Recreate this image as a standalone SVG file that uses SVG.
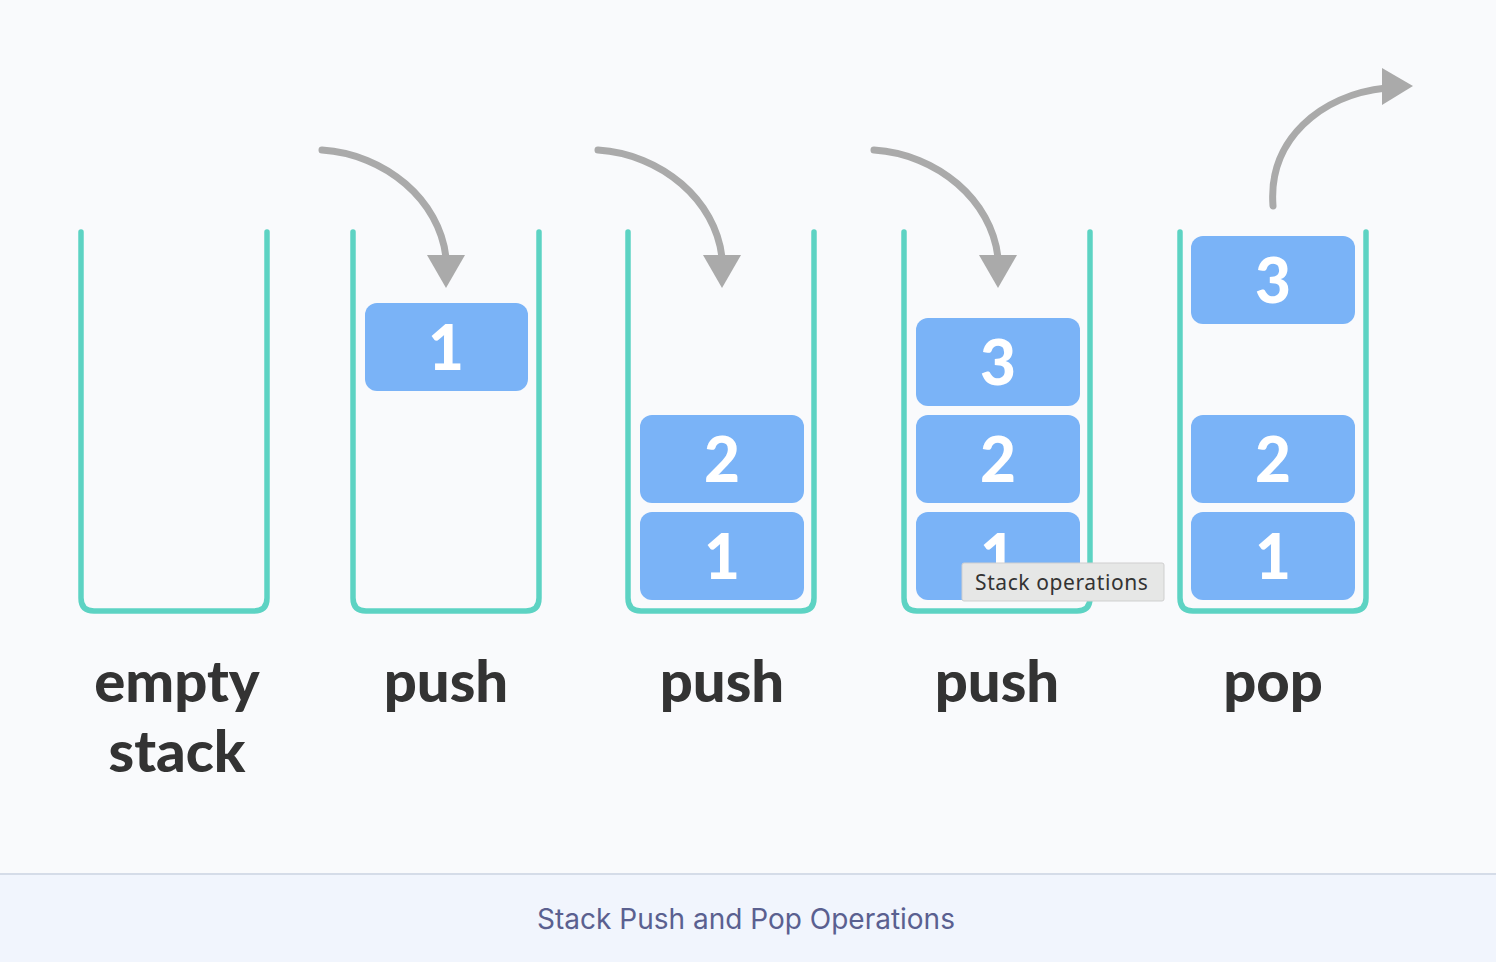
<svg xmlns="http://www.w3.org/2000/svg" width="1496" height="962" viewBox="0 0 1496 962">
<style>
.box{fill:none;stroke:#5DD3C3;stroke-width:5.5;stroke-linecap:round;stroke-linejoin:round}
.blk{fill:#7AB3F7}
.num{fill:#fff;font-family:Lato,"Noto Sans",sans-serif;font-weight:900;font-size:62px;text-anchor:middle}
.lbl{fill:#333;font-family:Lato,"Noto Sans",sans-serif;font-weight:900;font-size:58px;text-anchor:middle}
.arr{fill:none;stroke:#AAAAAA;stroke-width:7;stroke-linecap:round}
.head{fill:#AAAAAA}
</style>
<rect x="0" y="0" width="1496" height="962" fill="#F9FAFC"/>
<rect x="0" y="874" width="1496" height="88" fill="#F1F5FD"/>
<line x1="0" y1="874" x2="1496" y2="874" stroke="#D5DCE8" stroke-width="2"/>
<text x="746" y="929" text-anchor="middle" font-family="Inter,'Noto Sans',sans-serif" font-size="28" fill="#5A6090">Stack Push and Pop Operations</text>

<g id="stack-empty">
<path class="box" d="M81,232 V598 Q81,611 94,611 H254 Q267,611 267,598 V232"/>
<text class="lbl" x="177" y="702">empty</text>
<text class="lbl" x="177" y="772">stack</text>
</g>
<g id="stack-push1">
<path class="box" d="M353,232 V598 Q353,611 366,611 H526 Q539,611 539,598 V232"/>
<rect class="blk" x="365" y="303" width="163" height="88" rx="12"/>
<text class="num" x="446" y="370">1</text>
<text class="lbl" x="446" y="702">push</text>
</g>
<g id="stack-push2">
<path class="box" d="M628,232 V598 Q628,611 641,611 H801 Q814,611 814,598 V232"/>
<rect class="blk" x="640" y="415" width="164" height="88" rx="12"/>
<text class="num" x="722" y="482">2</text>
<rect class="blk" x="640" y="512" width="164" height="88" rx="12"/>
<text class="num" x="722" y="579">1</text>
<text class="lbl" x="722" y="702">push</text>
</g>
<g id="stack-push3">
<path class="box" d="M904,232 V598 Q904,611 917,611 H1077 Q1090,611 1090,598 V232"/>
<rect class="blk" x="916" y="318" width="164" height="88" rx="12"/>
<text class="num" x="998" y="385">3</text>
<rect class="blk" x="916" y="415" width="164" height="88" rx="12"/>
<text class="num" x="998" y="482">2</text>
<rect class="blk" x="916" y="512" width="164" height="88" rx="12"/>
<text class="num" x="998" y="579">1</text>
<text class="lbl" x="997" y="702">push</text>
</g>
<g id="stack-pop">
<path class="box" d="M1180,232 V598 Q1180,611 1193,611 H1353 Q1366,611 1366,598 V232"/>
<rect class="blk" x="1191" y="236" width="164" height="88" rx="12"/>
<text class="num" x="1273" y="303">3</text>
<rect class="blk" x="1191" y="415" width="164" height="88" rx="12"/>
<text class="num" x="1273" y="482">2</text>
<rect class="blk" x="1191" y="512" width="164" height="88" rx="12"/>
<text class="num" x="1273" y="579">1</text>
<text class="lbl" x="1273" y="702">pop</text>
</g>

<g id="connectors">
<path class="arr" d="M322,150 C385,154 440,200 446,258"/>
<polygon class="head" points="427,255 465,255 446,288"/>
<path class="arr" d="M598,150 C661,154 716,200 722,258"/>
<polygon class="head" points="703,255 741,255 722,288"/>
<path class="arr" d="M874,150 C937,154 992,200 998,258"/>
<polygon class="head" points="979,255 1017,255 998,288"/>
<path class="arr" d="M1273,206 C1268,140 1320,95 1386,88"/>
<polygon class="head" points="1382,68 1413,86 1382,105"/>
</g>

<g id="tooltip">
<rect x="962" y="563" width="202" height="38" rx="2" fill="#E6E7E6" stroke="#CFCFCF" stroke-width="1"/>
<text x="975" y="590" font-family="'Noto Sans','Liberation Sans',sans-serif" font-size="21" letter-spacing="0.6" fill="#333">Stack operations</text>
</g>
</svg>
